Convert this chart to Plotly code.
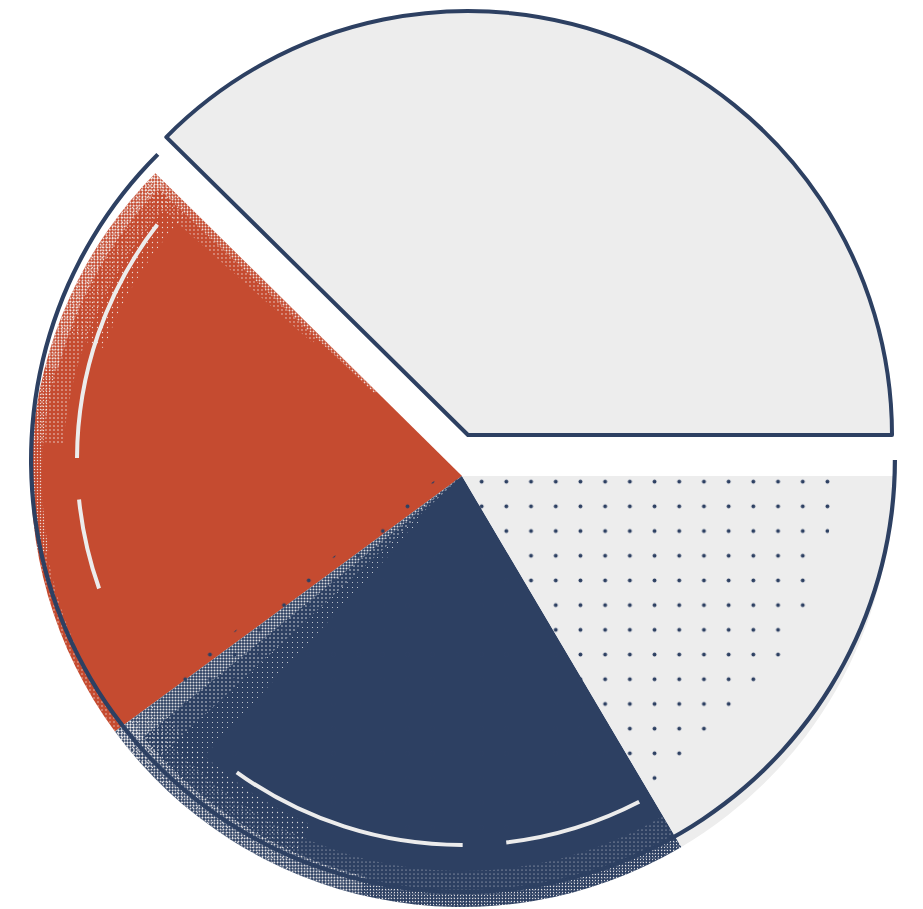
import plotly.graph_objects as go

W, H = 923, 909

# ---- data -------------------------------------------------------------
categories = ["Segment A", "Segment B", "Segment C", "Segment D"]
shares = [37.6, 22.5, 23.4, 16.5]

# ---- styles -----------------------------------------------------------
NAVY = "#2d4062"
RED = "#c54b30"
GRAY = "#ededed"
ARC_WHITE = "#ececec"
SPECK = "rgba(246,244,244,0.85)"
CLEAR = "rgba(0,0,0,0)"

total = sum(shares)
bounds = [0.0]
for s in shares:
    bounds.append(bounds[-1] + s / total * 360.0)
# bounds: start angles (deg, counter-clockwise from 3 o'clock) of each slice

BODY_C = (462, 476)
BODY_R = 431


def dom(cx, cy, r):
    return dict(x=[(cx - r) / W, (cx + r) / W],
                y=[1 - (cy + r) / H, 1 - (cy - r) / H])


def ring_trace(values, colors, cx, cy, r, hole=0.0, labels=None, line=None,
               pattern=None):
    vals = list(values)
    rot = 90 - vals[0] / sum(vals) * 360.0
    marker = dict(colors=colors, line=line or dict(width=0))
    if pattern is not None:
        marker["pattern"] = pattern
    return go.Pie(labels=labels or ["p%d" % i for i in range(len(vals))],
                  values=vals, sort=False, direction="counterclockwise",
                  rotation=rot, hole=hole, textinfo="none", hoverinfo="skip",
                  showlegend=False, marker=marker, domain=dom(cx, cy, r))


def span_values(edges):
    """angular spans [0,e0],[e0,e1],...,[en,360]"""
    return [edges[0]] + [b - a for a, b in zip(edges[:-1], edges[1:])] + [360 - edges[-1]]


fig = go.Figure()

# main body (red, navy, dotted-gray slices)
fig.add_trace(ring_trace(shares, [CLEAR, RED, NAVY, GRAY], *BODY_C, BODY_R,
                         labels=categories))


def grain(a0, a1, r_in, size, solidity):
    fig.add_trace(ring_trace(span_values([a0, a1]), [CLEAR] * 3, *BODY_C, BODY_R,
                             hole=r_in / BODY_R,
                             pattern=dict(shape=["", ".", ""], fgcolor=SPECK,
                                          bgcolor=CLEAR, size=size,
                                          solidity=solidity, fillmode="replace")))


red0, red1, blu1 = bounds[1], bounds[2], bounds[3]

# red: outer rim, heavier near the top corner
grain(red0, red0 + 30, 418, 3, 0.30)
grain(red0 + 30, red0 + 55, 420, 3, 0.18)
grain(red0 + 55, red1, 422, 4, 0.08)
grain(red0, red0 + 40, 400, 4, 0.12)
grain(red0, red0 + 25, 380, 5, 0.05)
# red: along the upper straight edge
grain(red0, red0 + 1.2, 120, 3, 0.30)
grain(red0 + 1.2, red0 + 3.0, 200, 4, 0.10)

# navy: along the red border
grain(red1, red1 + 3.0, 0, 3, 0.36)
grain(red1 + 3.0, red1 + 6.5, 0, 4, 0.13)
grain(red1 + 6.5, red1 + 11, 60, 5, 0.04)
# navy: outer rim
grain(red1, red1 + 40, 412, 3, 0.30)
grain(red1 + 40, blu1, 418, 3, 0.14)
grain(red1, blu1, 395, 4, 0.06)
grain(red1, red1 + 30, 380, 5, 0.05)

# dot texture wedge
dot_start = red1 + 0.6
fig.add_trace(ring_trace([dot_start, 360 - dot_start], [CLEAR, CLEAR], 462, 460, 374,
                         pattern=dict(shape=["", "."], fgcolor=NAVY, bgcolor=CLEAR,
                                      size=24.7, solidity=0.02, fillmode="replace")))

# outline ring around the non-top slices
r_out = 434
fig.add_trace(ring_trace([red0 - 0.4, 360 - red0 + 0.4], [CLEAR, NAVY],
                         463, 460, r_out, hole=(r_out - 4.2) / r_out))

# decorative light arcs
arc_edges = [142.3, 179.7, 185.9, 199.5, 234.2, 270.1, 276.6, 297.4]
spans = span_values(arc_edges)
arc_cols = [CLEAR if i % 2 == 0 else ARC_WHITE for i in range(len(spans))]
r_arc = 387
fig.add_trace(ring_trace(spans, arc_cols, 462, 460, r_arc, hole=(r_arc - 4) / r_arc))

# exploded top slice with outline
fig.add_trace(ring_trace(shares, [GRAY, CLEAR, CLEAR, CLEAR], 468, 435, 424,
                         labels=categories,
                         line=dict(color=[NAVY, CLEAR, CLEAR, CLEAR], width=[4, 0, 0, 0])))

fig.update_layout(width=W, height=H, margin=dict(l=0, r=0, t=0, b=0),
                  paper_bgcolor="white", plot_bgcolor="white", showlegend=False)

fig.write_html("out.html", config={"displayModeBar": False},
               post_script="document.body.style.margin='0';document.body.style.overflow='hidden';")
